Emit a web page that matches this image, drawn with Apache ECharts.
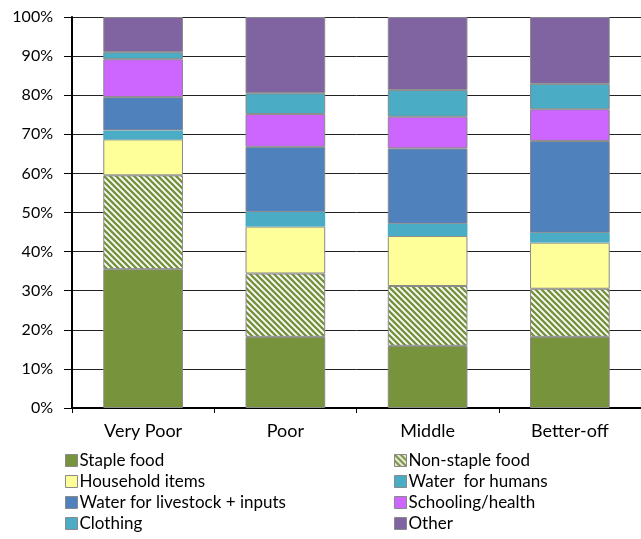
<!DOCTYPE html>
<html>
<head>
<meta charset="utf-8">
<script src="https://cdn.jsdelivr.net/npm/echarts@6/dist/echarts.min.js"></script>
<style>
  html, body { margin: 0; padding: 0; background: #fff; }
  #chart { width: 641px; height: 539px; }
</style>
</head>
<body>
<div id="chart"></div>
<script>
// Expenditure shares (%) by wealth group
const categories = ['Very Poor', 'Poor', 'Middle', 'Better-off'];
const stapleFood      = [35.5, 18.2, 15.9, 18.2];
const nonStapleFood   = [24.0, 16.2, 15.3, 12.3];
const householdItems  = [9.2, 12.0, 12.8, 11.8];
const waterHumans     = [2.3, 3.7, 3.1, 2.5];
const waterLivestock  = [8.5, 16.7, 19.3, 23.5];
const schoolingHealth = [9.7, 8.4, 8.1, 8.1];
const clothing        = [1.8, 5.3, 6.8, 6.5];
const other           = [9.0, 19.5, 18.7, 17.1];
const yTicks = [0, 10, 20, 30, 40, 50, 60, 70, 80, 90, 100];

const FONT = 'Lato, "Open Sans", sans-serif';

// diagonal green/white hatch for non-staple food
function hatchPattern() {
  const s = 6;
  const c = document.createElement('canvas');
  c.width = s; c.height = s;
  const g = c.getContext('2d');
  g.fillStyle = '#ffffff';
  g.fillRect(0, 0, s, s);
  g.strokeStyle = '#77933C';
  g.lineWidth = 2.4;
  g.beginPath();
  g.moveTo(-1, -1); g.lineTo(s + 1, s + 1);
  g.moveTo(-1, s - 1); g.lineTo(1, s + 1);
  g.moveTo(s - 1, -1); g.lineTo(s + 1, 1);
  g.stroke();
  return { image: c, repeat: 'repeat' };
}

function bar(name, data, color, bordered) {
  return {
    name: name,
    type: 'bar',
    stack: 'total',
    data: data,
    barWidth: '56%',
    itemStyle: {
      color: color,
      borderColor: bordered ? '#8a8a8a' : 'transparent',
      borderWidth: bordered ? 1 : 0
    },
    emphasis: { disabled: true }
  };
}

const series = [
  bar('Staple food', stapleFood, '#77933C', true),
  bar('Non-staple food', nonStapleFood, hatchPattern(), true),
  bar('Household items', householdItems, '#FFFF99', true),
  bar('Water  for humans', waterHumans, '#4BACC6', false),
  bar('Water for livestock + inputs', waterLivestock, '#4F81BD', true),
  bar('Schooling/health', schoolingHealth, '#CC66FF', true),
  bar('Clothing', clothing, '#4BACC6', true),
  bar('Other', other, '#8064A2', true)
];

const legendBase = {
  orient: 'vertical',
  padding: 0,
  height: 120,
  itemWidth: 12,
  itemHeight: 12,
  itemGap: 2,
  icon: 'rect',
  selectedMode: false,
  textStyle: { fontFamily: FONT, fontSize: 17, lineHeight: 19, color: '#000', padding: [0, 0, 0, -3] },
  itemStyle: { borderColor: '#8a8a8a', borderWidth: 1 }
};

const chart = echarts.init(document.getElementById('chart'), null, { renderer: 'canvas' });
chart.setOption({
  animation: false,
  backgroundColor: '#fff',
  grid: { left: 72, right: -5, top: 17, bottom: 131 },
  xAxis: {
    type: 'category',
    data: categories,
    axisLine: { lineStyle: { color: '#000', width: 2 } },
    axisTick: { show: true, length: 5, alignWithLabel: false, lineStyle: { color: '#000', width: 1 } },
    axisLabel: { fontFamily: FONT, fontSize: 18, color: '#000', margin: 14 }
  },
  yAxis: {
    type: 'value',
    min: yTicks[0],
    max: yTicks[yTicks.length - 1],
    interval: 10,
    axisLine: { show: true, lineStyle: { color: '#000', width: 2 } },
    axisTick: { show: true, length: 8, inside: false, lineStyle: { color: '#000', width: 1 } },
    splitLine: { show: true, lineStyle: { color: '#222', width: 1 } },
    axisLabel: { fontFamily: FONT, fontSize: 16, color: '#000', margin: 19, formatter: '{value}%' }
  },
  legend: [
    Object.assign({}, legendBase, {
      left: 65, top: 451,
      data: ['Staple food', 'Household items', 'Water for livestock + inputs', 'Clothing']
    }),
    Object.assign({}, legendBase, {
      left: 394, top: 451,
      data: ['Non-staple food', 'Water  for humans', 'Schooling/health', 'Other']
    })
  ],
  series: series
});
</script>
</body>
</html>
